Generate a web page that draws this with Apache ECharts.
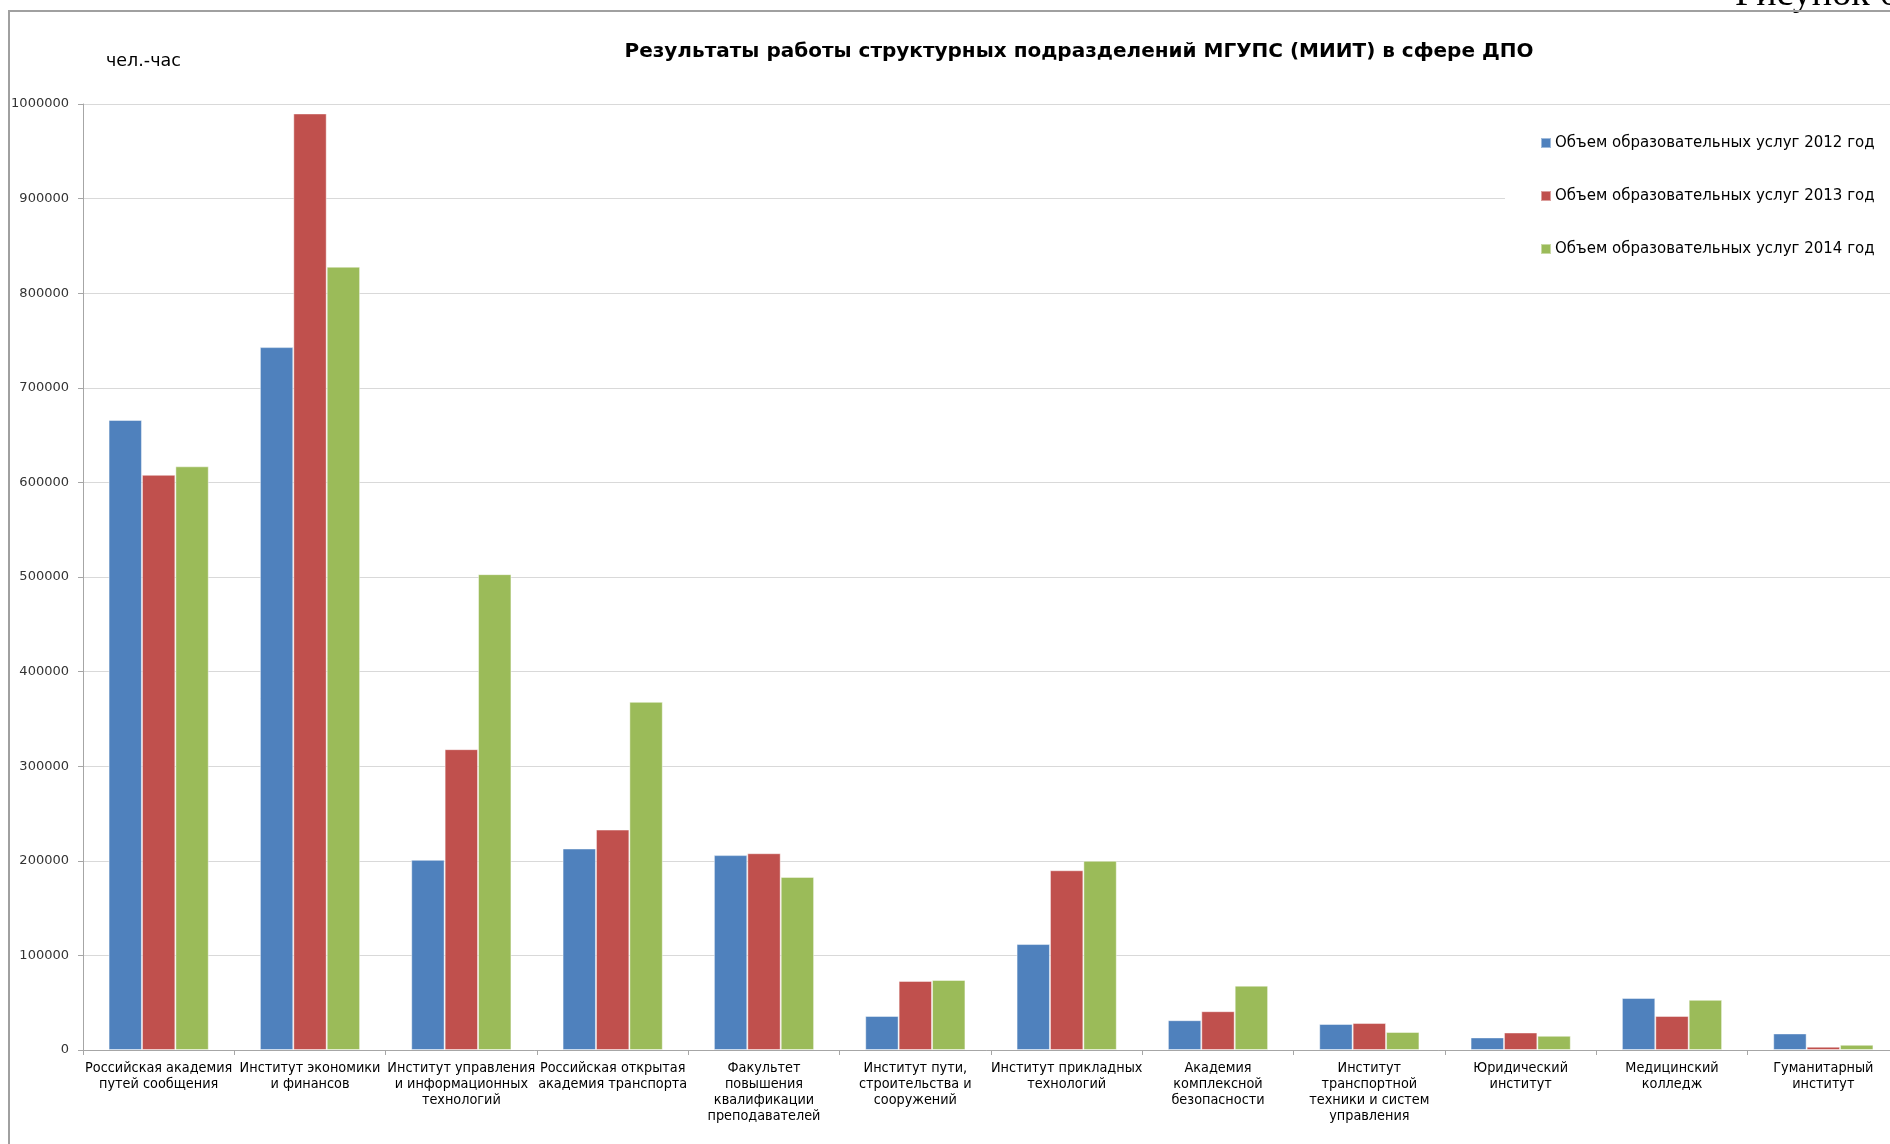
<!DOCTYPE html>
<html>
<head>
<meta charset="utf-8">
<script src="https://cdn.jsdelivr.net/npm/echarts@6/dist/echarts.min.js"></script>
<style>
html,body{margin:0;padding:0;background:#fff;}
#chart{width:1890px;height:1144px;}
</style>
</head>
<body>
<div id="chart"></div>
<script>
const categories = [
  "Российская академия\nпутей сообщения",
  "Институт экономики\nи финансов",
  "Институт управления\nи информационных\nтехнологий",
  "Российская открытая\nакадемия транспорта",
  "Факультет\nповышения\nквалификации\nпреподавателей",
  "Институт пути,\nстроительства и\nсооружений",
  "Институт прикладных\nтехнологий",
  "Академия\nкомплексной\nбезопасности",
  "Институт\nтранспортной\nтехники и систем\nуправления",
  "Юридический\nинститут",
  "Медицинский\nколледж",
  "Гуманитарный\nинститут"
];
const seriesNames = [
  "Объем образовательных услуг 2012 год",
  "Объем образовательных услуг 2013 год",
  "Объем образовательных услуг 2014 год"
];
const values2012 = [666000, 743000, 201000, 213000, 206000, 36000, 112000, 31500, 27500, 13300, 55000, 17500];
const values2013 = [608000, 990000, 318000, 233000, 208000, 73000, 190000, 41000, 28500, 18500, 36000, 3500];
const values2014 = [617000, 828000, 503000, 368000, 183000, 74000, 200000, 68000, 19000, 15000, 53000, 5500];
const yMin = 0, yMax = 1000000, yStep = 100000;
const titleText = "Результаты работы структурных подразделений МГУПС (МИИТ) в сфере ДПО";
const unitText = "чел.-час";
const figureText = "Рисунок 6";

const colors = ["#4F81BD", "#C0504D", "#9BBB59"];
const allValues = [values2012, values2013, values2014];

const chart = echarts.init(document.getElementById('chart'));
chart.setOption({
  animation: false,
  backgroundColor: '#ffffff',
  color: colors,
  title: {
    text: titleText,
    left: 1074, top: 37,
    textAlign: 'center',
    textStyle: {fontFamily: 'DejaVu Sans', fontWeight: 'bold', fontSize: 20, color: '#000'}
  },
  legend: {
    orient: 'vertical',
    left: 1505, top: 122,
    padding: [12, 60, 14, 35],
    backgroundColor: '#ffffff',
    itemWidth: 10, itemHeight: 10,
    itemGap: 35,
    icon: 'rect',
    textStyle: {fontFamily: 'DejaVu Sans', fontSize: 15, color: '#000', lineHeight: 18, padding: [0,0,0,-1]},
    data: seriesNames
  },
  grid: {left: 83, width: 1816, top: 104, bottom: 94, containLabel: false, outerBoundsMode: 'none'},
  xAxis: {
    type: 'category',
    data: categories,
    boundaryGap: true,
    axisLine: {lineStyle: {color: '#A6A6A6', width: 1}},
    axisTick: {show: true, length: 5, lineStyle: {color: '#A6A6A6'}},
    axisLabel: {
      interval: 0, margin: 10,
      fontFamily: 'Liberation Sans Narrow, DejaVu Sans Condensed, sans-serif',
      fontSize: 14.3, lineHeight: 16, color: '#000', align: 'center'
    }
  },
  yAxis: {
    type: 'value',
    min: yMin, max: yMax, interval: yStep,
    axisLine: {show: true, lineStyle: {color: '#A6A6A6', width: 1}},
    axisTick: {show: true, length: 5, lineStyle: {color: '#A6A6A6'}},
    splitLine: {lineStyle: {color: '#D9D9D9', width: 1}},
    axisLabel: {
      formatter: v => String(v),
      margin: 14,
      fontFamily: 'DejaVu Sans', fontSize: 13, color: '#333'
    }
  },
  series: seriesNames.map((name, i) => ({
    name: name,
    type: 'bar',
    data: allValues[i],
    barWidth: 33.4,
    barGap: '0%',
    itemStyle: {color: colors[i], borderColor: 'rgba(255,255,255,0.45)', borderWidth: 1}
  })),
  graphic: [
    {type: 'line', shape: {x1: 8, y1: 11, x2: 1890, y2: 11}, style: {stroke: '#A0A0A0', lineWidth: 2}, z: 10},
    {type: 'line', shape: {x1: 9, y1: 10, x2: 9, y2: 1144}, style: {stroke: '#A0A0A0', lineWidth: 2}, z: 10},
    {type: 'text', left: 106, top: 52, style: {text: unitText, fontFamily: 'DejaVu Sans', fontSize: 17.5, fill: '#000'}},
    {type: 'text', x: 1735, y: 14, style: {text: figureText, fontFamily: 'Liberation Serif', fontSize: 38, fill: '#000', textVerticalAlign: 'bottom'}}
  ]
});
</script>
</body>
</html>
